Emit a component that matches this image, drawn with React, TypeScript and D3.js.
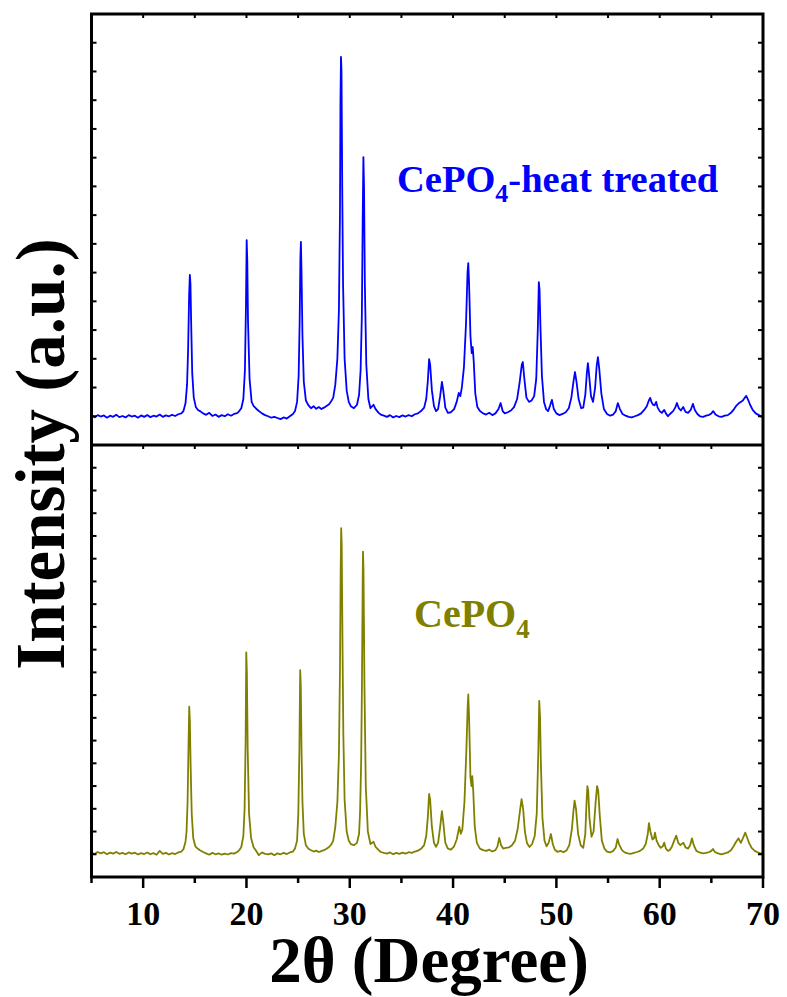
import React from "react";
import * as d3 from "d3";

// XRD patterns: [2θ (deg), intensity (counts)]
const heatTreated: [number, number][] = [
  [5.0, 105], [5.3, 96], [5.6, 104], [5.9, 99], [6.2, 103], [6.5, 95], [6.8, 102], [7.1, 98], [7.4, 105], [7.7, 97],
  [8.0, 101], [8.3, 96], [8.6, 104], [8.9, 99], [9.2, 102], [9.5, 95], [9.8, 103], [10.1, 98], [10.4, 104], [10.7, 97],
  [11.0, 102], [11.3, 99], [11.6, 106], [11.9, 98], [12.2, 103], [12.5, 100], [12.8, 105], [13.1, 101], [13.4, 107], [13.7, 110],
  [13.9, 118], [14.1, 145], [14.25, 210], [14.35, 330], [14.45, 520], [14.52, 592], [14.58, 560], [14.65, 420], [14.75, 250], [14.9, 165],
  [15.1, 132], [15.3, 122], [15.5, 118], [15.8, 110], [16.1, 105], [16.4, 112], [16.7, 101], [17.0, 106], [17.3, 98], [17.6, 104],
  [17.9, 100], [18.2, 107], [18.5, 102], [18.8, 108], [19.1, 111], [19.3, 118],
  [19.5, 128], [19.7, 160], [19.85, 260], [19.95, 480], [20.02, 713], [20.08, 640], [20.15, 430], [20.3, 230], [20.5, 150], [20.7, 135],
  [20.9, 128], [21.2, 118], [21.5, 110], [21.8, 104], [22.1, 100], [22.4, 95], [22.7, 98], [23.0, 94], [23.3, 90], [23.6, 96],
  [23.9, 92], [24.2, 100], [24.5, 108],
  [24.7, 118], [24.9, 150], [25.05, 240], [25.15, 430], [25.22, 650], [25.27, 707], [25.33, 600], [25.42, 380], [25.55, 220], [25.75, 155],
  [26.0, 138], [26.25, 128], [26.5, 135], [26.75, 126], [27.0, 132], [27.25, 125], [27.5, 130], [27.75, 136], [28.0, 142], [28.2, 152],
  [28.4, 165], [28.6, 210], [28.8, 300], [28.95, 470], [29.05, 800], [29.1, 1200], [29.15, 1351], [29.2, 1300], [29.27, 900], [29.35, 560],
  [29.5, 300], [29.7, 190], [29.9, 150], [30.1, 135], [30.4, 128], [30.7, 140], [30.9, 175],
  [31.05, 260], [31.17, 450], [31.25, 780], [31.32, 1002], [31.38, 900], [31.46, 560], [31.6, 280], [31.8, 160], [32.0, 128], [32.3, 140],
  [32.5, 125], [32.8, 112], [33.0, 106], [33.3, 102], [33.6, 98], [33.9, 104], [34.2, 96], [34.5, 101], [34.8, 97], [35.1, 103],
  [35.4, 99], [35.7, 104], [36.0, 100], [36.3, 107], [36.6, 110], [36.9, 118],
  [37.2, 130], [37.4, 160], [37.55, 220], [37.68, 299], [37.78, 280], [37.95, 190], [38.15, 135], [38.35, 118], [38.55, 125], [38.75, 170],
  [38.92, 220], [39.05, 190], [39.25, 130], [39.5, 112], [39.8, 114], [40.1, 125], [40.35, 150], [40.55, 181], [40.7, 170], [40.85, 200],
  [41.05, 270], [41.25, 420], [41.4, 600], [41.47, 633], [41.55, 560], [41.68, 380], [41.8, 320], [41.9, 341], [42.0, 290], [42.15, 180],
  [42.35, 132], [42.6, 118], [42.9, 110], [43.2, 106], [43.5, 112], [43.8, 104], [44.1, 110], [44.4, 125], [44.6, 146], [44.8, 118],
  [45.0, 110], [45.3, 114], [45.6, 120], [45.9, 132], [46.2, 160], [46.45, 220], [46.65, 280], [46.75, 289], [46.9, 230], [47.1, 165],
  [47.35, 150], [47.6, 155], [47.85, 170], [48.05, 230], [48.2, 400], [48.3, 567], [48.37, 540], [48.45, 420], [48.6, 240], [48.8, 150],
  [49.0, 125], [49.2, 118], [49.4, 138], [49.57, 157], [49.75, 125], [50.0, 110], [50.3, 104], [50.6, 108], [50.9, 114], [51.2, 128],
  [51.45, 165], [51.65, 220], [51.8, 254], [51.95, 220], [52.15, 160], [52.4, 128], [52.6, 130], [52.8, 175], [52.95, 250], [53.05, 285],
  [53.15, 250], [53.35, 170], [53.55, 150], [53.75, 200], [53.9, 275], [54.02, 306], [54.15, 265], [54.35, 180], [54.6, 125], [54.9, 108],
  [55.2, 102], [55.5, 106], [55.75, 118], [55.95, 146], [56.15, 125], [56.4, 108], [56.7, 102], [57.0, 98], [57.3, 96], [57.6, 100],
  [57.9, 104], [58.2, 110], [58.5, 122], [58.75, 135], [58.95, 155], [59.08, 164], [59.2, 150], [59.35, 140], [59.5, 138], [59.66, 150],
  [59.8, 130], [60.0, 118], [60.2, 112], [60.44, 122], [60.6, 110], [60.8, 100], [61.0, 108], [61.3, 118], [61.5, 130], [61.67, 146],
  [61.85, 128], [62.05, 120], [62.28, 132], [62.5, 115], [62.75, 112], [63.0, 122], [63.22, 143], [63.4, 122], [63.65, 108], [63.9, 100],
  [64.2, 98], [64.5, 102], [64.8, 105], [65.0, 110], [65.18, 118], [65.4, 106], [65.7, 100], [66.0, 98], [66.3, 102], [66.6, 104],
  [66.9, 112], [67.2, 125], [67.45, 138], [67.65, 145], [67.85, 150], [68.05, 155], [68.25, 165], [68.38, 171], [68.55, 158], [68.75, 140],
  [69.0, 122], [69.3, 110], [69.6, 104], [69.85, 98], [70.0, 100],
];

const asPrepared: [number, number][] = [
  [5.0, 108], [5.3, 101], [5.6, 110], [5.9, 104], [6.2, 109], [6.5, 100], [6.8, 107], [7.1, 103], [7.4, 110], [7.7, 102],
  [8.0, 106], [8.3, 100], [8.6, 108], [8.9, 103], [9.2, 107], [9.5, 99], [9.8, 105], [10.1, 101], [10.4, 108], [10.7, 100],
  [11.0, 105], [11.3, 98], [11.6, 115], [11.9, 102], [12.2, 106], [12.5, 99], [12.8, 105], [13.1, 101], [13.4, 108], [13.7, 112],
  [13.9, 122], [14.1, 155], [14.2, 200], [14.3, 330], [14.4, 600], [14.46, 749], [14.52, 690], [14.6, 480], [14.7, 280], [14.85, 170],
  [15.05, 135], [15.3, 124], [15.5, 118], [15.8, 110], [16.1, 104], [16.4, 98], [16.7, 106], [17.0, 100], [17.3, 104], [17.6, 98],
  [17.9, 103], [18.2, 99], [18.5, 105], [18.8, 103], [19.1, 110], [19.3, 118],
  [19.5, 132], [19.7, 180], [19.82, 300], [19.92, 600], [19.98, 988], [20.04, 900], [20.12, 560], [20.25, 280], [20.45, 170], [20.7, 130],
  [20.9, 118], [21.2, 96], [21.5, 108], [21.8, 102], [22.1, 100], [22.4, 104], [22.7, 96], [23.0, 104], [23.3, 100], [23.6, 106],
  [23.9, 101], [24.2, 108], [24.5, 112],
  [24.7, 125], [24.9, 160], [25.02, 280], [25.12, 550], [25.2, 910], [25.26, 840], [25.33, 560], [25.42, 330], [25.55, 190], [25.75, 140],
  [26.0, 124], [26.25, 118], [26.5, 112], [26.75, 116], [27.0, 110], [27.25, 114], [27.5, 118], [27.75, 124], [28.0, 132], [28.2, 142],
  [28.4, 160], [28.6, 220], [28.8, 330], [28.95, 540], [29.05, 900], [29.12, 1350], [29.17, 1534], [29.22, 1460], [29.3, 1000], [29.38, 620],
  [29.5, 340], [29.7, 200], [29.9, 160], [30.1, 145], [30.4, 140], [30.7, 150], [30.9, 190],
  [31.0, 290], [31.1, 500], [31.18, 850], [31.25, 1300], [31.28, 1431], [31.33, 1350], [31.42, 850], [31.55, 400], [31.75, 200], [32.0, 145],
  [32.3, 155], [32.5, 132], [32.8, 118], [33.0, 110], [33.3, 106], [33.6, 103], [33.9, 108], [34.2, 100], [34.5, 106], [34.8, 102],
  [35.1, 107], [35.4, 103], [35.7, 109], [36.0, 106], [36.3, 112], [36.6, 116], [36.9, 124],
  [37.2, 140], [37.4, 180], [37.55, 260], [37.68, 365], [37.78, 340], [37.95, 220], [38.15, 150], [38.35, 133], [38.55, 150], [38.75, 220],
  [38.92, 290], [39.05, 240], [39.25, 150], [39.5, 125], [39.8, 120], [40.1, 135], [40.35, 165], [40.6, 221], [40.75, 190], [40.9, 210],
  [41.1, 330], [41.28, 550], [41.42, 760], [41.47, 803], [41.55, 700], [41.68, 440], [41.78, 400], [41.86, 444], [41.95, 380], [42.1, 220],
  [42.3, 150], [42.6, 125], [42.9, 118], [43.2, 115], [43.5, 120], [43.8, 112], [44.1, 118], [44.3, 135], [44.47, 172], [44.65, 140],
  [44.85, 125], [45.1, 128], [45.4, 130], [45.7, 140], [46.0, 160], [46.25, 210], [46.5, 300], [46.63, 342], [46.78, 300], [46.95, 200],
  [47.15, 150], [47.4, 132], [47.65, 145], [47.9, 180], [48.1, 280], [48.25, 550], [48.34, 775], [48.42, 700], [48.5, 500], [48.65, 260],
  [48.85, 160], [49.05, 135], [49.25, 150], [49.47, 189], [49.65, 145], [49.85, 120], [50.1, 111], [50.4, 115], [50.7, 109], [51.0, 118],
  [51.25, 140], [51.5, 210], [51.65, 290], [51.76, 336], [51.9, 300], [52.1, 190], [52.35, 140], [52.6, 128], [52.8, 190], [52.92, 330],
  [53.0, 400], [53.08, 380], [53.2, 260], [53.4, 177], [53.6, 200], [53.8, 330], [53.94, 400], [54.05, 380], [54.2, 270], [54.4, 160],
  [54.65, 125], [54.9, 112], [55.2, 108], [55.5, 115], [55.75, 130], [55.92, 167], [56.1, 140], [56.35, 118], [56.6, 108], [56.9, 104],
  [57.2, 102], [57.5, 106], [57.8, 110], [58.1, 115], [58.4, 125], [58.65, 145], [58.85, 190], [58.96, 237], [59.1, 200], [59.3, 165],
  [59.45, 170], [59.54, 195], [59.7, 160], [59.9, 140], [60.1, 128], [60.3, 135], [60.44, 151], [60.6, 125], [60.8, 115], [61.0, 120],
  [61.2, 135], [61.4, 160], [61.6, 182], [61.8, 150], [62.0, 140], [62.2, 148], [62.3, 150], [62.5, 130], [62.75, 125], [62.95, 140],
  [63.12, 170], [63.3, 140], [63.55, 115], [63.85, 108], [64.2, 104], [64.5, 106], [64.8, 110], [65.0, 115], [65.15, 123], [65.35, 110],
  [65.65, 104], [65.95, 100], [66.3, 104], [66.6, 108], [66.9, 118], [67.15, 135], [67.4, 155], [67.63, 170], [67.85, 150], [68.05, 170],
  [68.28, 195], [68.45, 175], [68.65, 150], [68.9, 128], [69.2, 115], [69.5, 108], [69.8, 103], [70.0, 107],
];

const xTickValues = [10, 20, 30, 40, 50, 60, 70];
const xMinorValues = [5, 15, 25, 35, 45, 55, 65];
const topInnerTicks = [10, 15, 20, 25, 30, 35, 40, 45, 50, 55, 60, 65];

const width = 787;
const height = 997;
const frame = { left: 91.5, right: 763, top: 14, mid: 445, bottom: 877 };
const font = "'Liberation Serif', 'Times New Roman', serif";

export default function App() {
  const x = d3.scaleLinear().domain([5, 70]).range([frame.left, frame.right]);
  const yTop = d3.scaleLinear().domain([0, 1500]).range([frame.mid, frame.top]);
  const yBot = d3.scaleLinear().domain([0, 1900]).range([frame.bottom, frame.mid]);

  const lineTop = d3.line<[number, number]>().x((d) => x(d[0])).y((d) => yTop(d[1]));
  const lineBot = d3.line<[number, number]>().x((d) => x(d[0])).y((d) => yBot(d[1]));

  const topTicks = d3.range(0, 1501, 100);
  const botTicks = d3.range(0, 1901, 100);

  return (
    <svg width={width} height={height} style={{ position: "absolute", left: 0, top: 0, background: "#fff" }}>
      <path d={lineTop(heatTreated) ?? ""} fill="none" stroke="#0000ff" strokeWidth={1.8} strokeLinejoin="round" />
      <path d={lineBot(asPrepared) ?? ""} fill="none" stroke="#808000" strokeWidth={1.8} strokeLinejoin="round" />

      {/* inner y ticks, left and right */}
      <g stroke="#000" strokeWidth={2}>
        {topTicks.map((t) => (
          <g key={"t" + t}>
            <line x1={frame.left} x2={frame.left + 5} y1={yTop(t)} y2={yTop(t)} />
            <line x1={frame.right} x2={frame.right - 5} y1={yTop(t)} y2={yTop(t)} />
          </g>
        ))}
        {botTicks.map((t) => (
          <g key={"b" + t}>
            <line x1={frame.left} x2={frame.left + 5} y1={yBot(t)} y2={yBot(t)} />
            <line x1={frame.right} x2={frame.right - 5} y1={yBot(t)} y2={yBot(t)} />
          </g>
        ))}
        {topInnerTicks.map((t) => (
          <g key={"x" + t}>
            <line x1={x(t)} x2={x(t)} y1={frame.top} y2={frame.top + 4} />
            <line x1={x(t)} x2={x(t)} y1={frame.mid} y2={frame.mid + 4} />
          </g>
        ))}
      </g>

      {/* bottom axis ticks */}
      <g stroke="#000" strokeWidth={2.5}>
        {xTickValues.map((t) => (
          <line key={"M" + t} x1={x(t)} x2={x(t)} y1={frame.bottom} y2={frame.bottom + 11} />
        ))}
        {xMinorValues.map((t) => (
          <line key={"m" + t} x1={x(t)} x2={x(t)} y1={frame.bottom} y2={frame.bottom + 6} />
        ))}
      </g>

      {/* frame */}
      <rect x={frame.left} y={frame.top} width={frame.right - frame.left} height={frame.bottom - frame.top}
        fill="none" stroke="#000" strokeWidth={3} />
      <line x1={frame.left} x2={frame.right} y1={frame.mid} y2={frame.mid} stroke="#000" strokeWidth={3} />

      {/* tick labels */}
      <g fontFamily={font} fontWeight="bold" fontSize={34} textAnchor="middle" fill="#000">
        {xTickValues.map((t) => (
          <text key={"l" + t} x={x(t)} y={925}>{t}</text>
        ))}
      </g>

      {/* axis titles */}
      <text x={429} y={982} fontFamily={font} fontWeight="bold" fontSize={65} textAnchor="middle">
        2θ (Degree)
      </text>
      <text transform="translate(64,454) rotate(-90)" fontFamily={font} fontWeight="bold"
        fontSize={69} textAnchor="middle">
        Intensity (a.u.)
      </text>

      {/* labels */}
      <text x={397} y={192} fontFamily={font} fontWeight="bold" fontSize={38.5} fill="#0000ff">
        CePO<tspan dy={10} fontSize={26}>4</tspan><tspan dy={-10}>-heat treated</tspan>
      </text>
      <text x={414} y={627} fontFamily={font} fontWeight="bold" fontSize={40} fill="#808000">
        CePO<tspan dy={11} fontSize={27}>4</tspan>
      </text>
    </svg>
  );
}
